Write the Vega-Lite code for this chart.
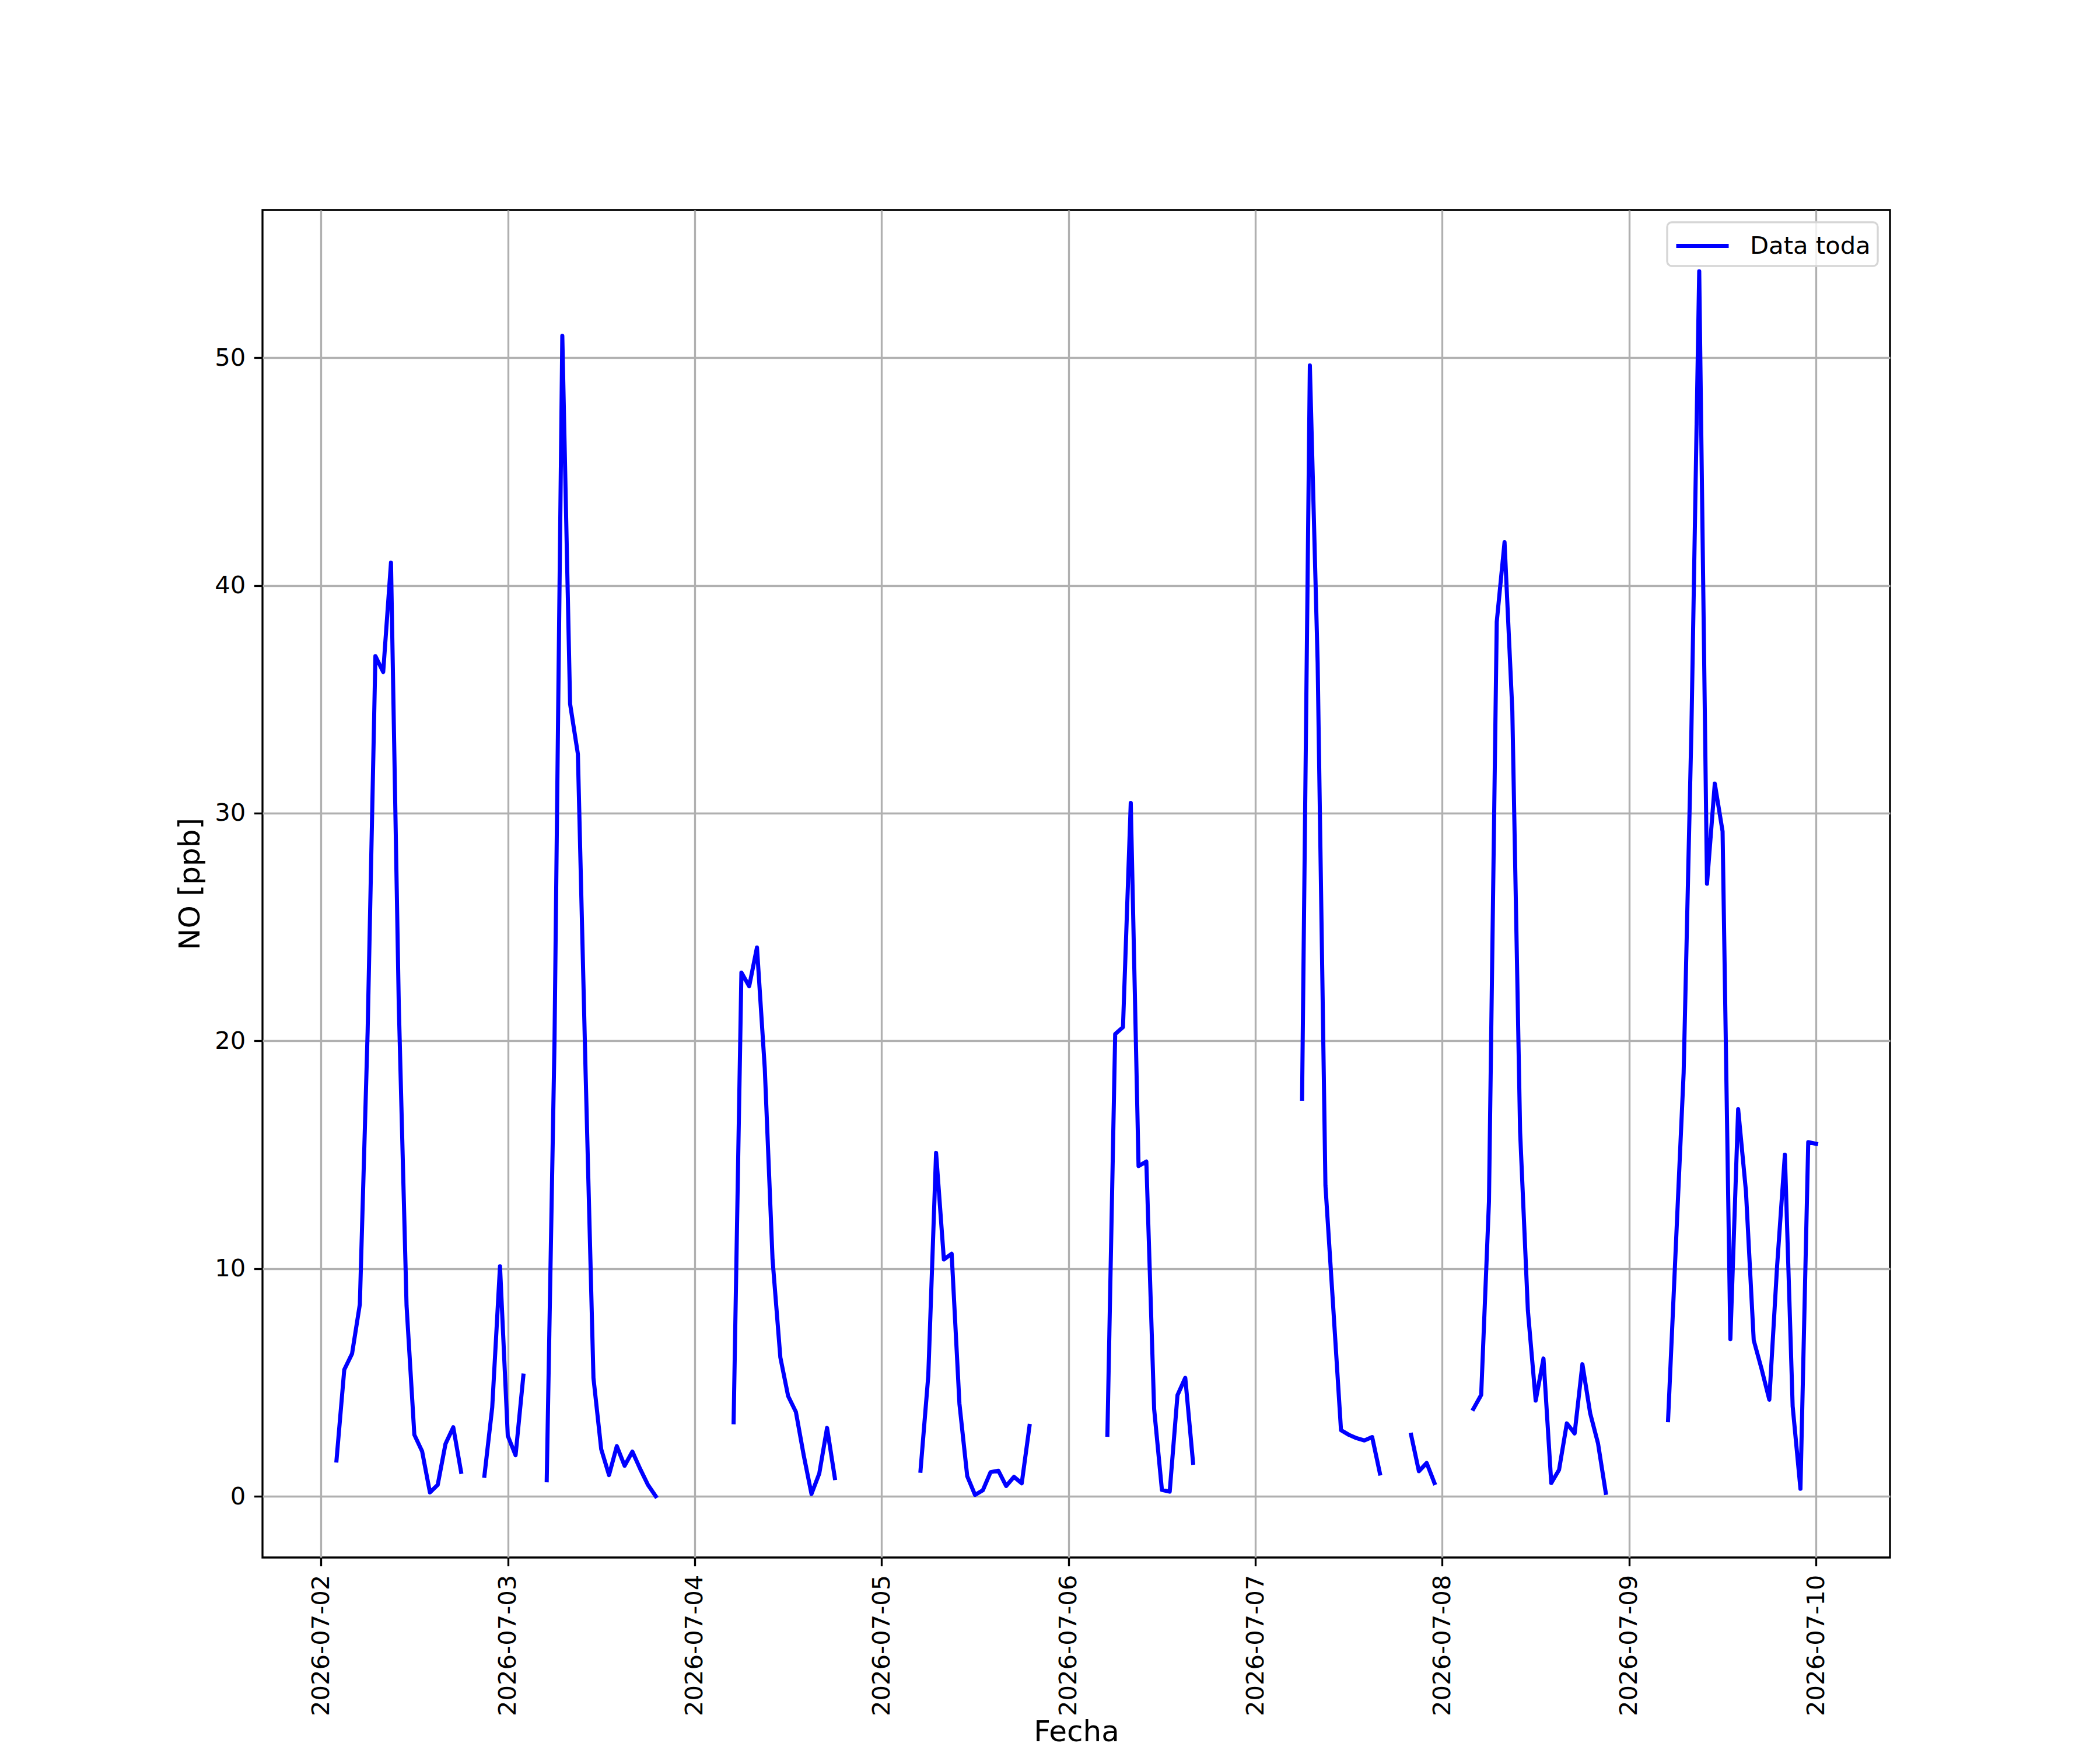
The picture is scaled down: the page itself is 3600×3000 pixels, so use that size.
{
  "$schema": "https://vega.github.io/schema/vega-lite/v6.json",
  "autosize": {"type": "none"},
  "width": 2790,
  "height": 2310,
  "padding": {"left": 450, "top": 360, "right": 360, "bottom": 330},
  "background": "white",
  "config": {
    "font": "DejaVu Sans",
    "view": {"stroke": "black", "strokeWidth": 3.33},
    "axis": {
      "labelFont": "DejaVu Sans",
      "labelFontSize": 41.7,
      "labelColor": "black",
      "labelLimit": 0,
      "titleFont": "DejaVu Sans",
      "titleFontSize": 50,
      "titleFontWeight": "normal",
      "titleColor": "black",
      "domain": false,
      "tickColor": "black",
      "tickWidth": 3.33,
      "tickSize": 14.6,
      "labelPadding": 14.6,
      "gridColor": "#b0b0b0",
      "gridWidth": 3.33,
      "gridOpacity": 1
    }
  },
  "data": {
    "values": [
      {"fecha": "2026-07-02T02:00", "no": 1.57},
      {"fecha": "2026-07-02T03:00", "no": 5.56},
      {"fecha": "2026-07-02T04:00", "no": 6.26},
      {"fecha": "2026-07-02T05:00", "no": 8.43},
      {"fecha": "2026-07-02T06:00", "no": 20.4},
      {"fecha": "2026-07-02T07:00", "no": 36.9},
      {"fecha": "2026-07-02T08:00", "no": 36.2},
      {"fecha": "2026-07-02T09:00", "no": 41.0},
      {"fecha": "2026-07-02T10:00", "no": 21.6},
      {"fecha": "2026-07-02T11:00", "no": 8.37},
      {"fecha": "2026-07-02T12:00", "no": 2.7},
      {"fecha": "2026-07-02T13:00", "no": 1.97},
      {"fecha": "2026-07-02T14:00", "no": 0.17},
      {"fecha": "2026-07-02T15:00", "no": 0.5},
      {"fecha": "2026-07-02T16:00", "no": 2.3},
      {"fecha": "2026-07-02T17:00", "no": 3.03},
      {"fecha": "2026-07-02T18:00", "no": 1.07},
      {"fecha": "2026-07-02T19:00", "no": null},
      {"fecha": "2026-07-02T21:00", "no": 0.9},
      {"fecha": "2026-07-02T22:00", "no": 3.9},
      {"fecha": "2026-07-02T23:00", "no": 10.1},
      {"fecha": "2026-07-03T00:00", "no": 2.65},
      {"fecha": "2026-07-03T01:00", "no": 1.8},
      {"fecha": "2026-07-03T02:00", "no": 5.3},
      {"fecha": "2026-07-03T03:00", "no": null},
      {"fecha": "2026-07-03T05:00", "no": 0.7},
      {"fecha": "2026-07-03T06:00", "no": 20.0},
      {"fecha": "2026-07-03T07:00", "no": 50.96},
      {"fecha": "2026-07-03T08:00", "no": 34.8},
      {"fecha": "2026-07-03T09:00", "no": 32.6},
      {"fecha": "2026-07-03T10:00", "no": 18.5},
      {"fecha": "2026-07-03T11:00", "no": 5.2},
      {"fecha": "2026-07-03T12:00", "no": 2.06},
      {"fecha": "2026-07-03T13:00", "no": 0.93},
      {"fecha": "2026-07-03T14:00", "no": 2.2},
      {"fecha": "2026-07-03T15:00", "no": 1.34},
      {"fecha": "2026-07-03T16:00", "no": 1.96},
      {"fecha": "2026-07-03T17:00", "no": 1.2},
      {"fecha": "2026-07-03T18:00", "no": 0.5},
      {"fecha": "2026-07-03T19:00", "no": 0.0},
      {"fecha": "2026-07-03T20:00", "no": null},
      {"fecha": "2026-07-04T05:00", "no": 3.25},
      {"fecha": "2026-07-04T06:00", "no": 23.0},
      {"fecha": "2026-07-04T07:00", "no": 22.4},
      {"fecha": "2026-07-04T08:00", "no": 24.1},
      {"fecha": "2026-07-04T09:00", "no": 18.8},
      {"fecha": "2026-07-04T10:00", "no": 10.4},
      {"fecha": "2026-07-04T11:00", "no": 6.1},
      {"fecha": "2026-07-04T12:00", "no": 4.4},
      {"fecha": "2026-07-04T13:00", "no": 3.7},
      {"fecha": "2026-07-04T14:00", "no": 1.8},
      {"fecha": "2026-07-04T15:00", "no": 0.1},
      {"fecha": "2026-07-04T16:00", "no": 1.0},
      {"fecha": "2026-07-04T17:00", "no": 3.0},
      {"fecha": "2026-07-04T18:00", "no": 0.8},
      {"fecha": "2026-07-04T19:00", "no": null},
      {"fecha": "2026-07-05T05:00", "no": 1.12},
      {"fecha": "2026-07-05T06:00", "no": 5.3},
      {"fecha": "2026-07-05T07:00", "no": 15.08},
      {"fecha": "2026-07-05T08:00", "no": 10.4},
      {"fecha": "2026-07-05T09:00", "no": 10.65},
      {"fecha": "2026-07-05T10:00", "no": 4.06},
      {"fecha": "2026-07-05T11:00", "no": 0.88},
      {"fecha": "2026-07-05T12:00", "no": 0.06},
      {"fecha": "2026-07-05T13:00", "no": 0.26},
      {"fecha": "2026-07-05T14:00", "no": 1.06},
      {"fecha": "2026-07-05T15:00", "no": 1.12},
      {"fecha": "2026-07-05T16:00", "no": 0.45},
      {"fecha": "2026-07-05T17:00", "no": 0.85},
      {"fecha": "2026-07-05T18:00", "no": 0.57},
      {"fecha": "2026-07-05T19:00", "no": 3.09},
      {"fecha": "2026-07-05T20:00", "no": null},
      {"fecha": "2026-07-06T05:00", "no": 2.7},
      {"fecha": "2026-07-06T06:00", "no": 20.3},
      {"fecha": "2026-07-06T07:00", "no": 20.6},
      {"fecha": "2026-07-06T08:00", "no": 30.45},
      {"fecha": "2026-07-06T09:00", "no": 14.5},
      {"fecha": "2026-07-06T10:00", "no": 14.7},
      {"fecha": "2026-07-06T11:00", "no": 3.84},
      {"fecha": "2026-07-06T12:00", "no": 0.28},
      {"fecha": "2026-07-06T13:00", "no": 0.2},
      {"fecha": "2026-07-06T14:00", "no": 4.44},
      {"fecha": "2026-07-06T15:00", "no": 5.2},
      {"fecha": "2026-07-06T16:00", "no": 1.47},
      {"fecha": "2026-07-06T17:00", "no": null},
      {"fecha": "2026-07-07T06:00", "no": 17.46},
      {"fecha": "2026-07-07T07:00", "no": 49.66},
      {"fecha": "2026-07-07T08:00", "no": 36.6},
      {"fecha": "2026-07-07T09:00", "no": 13.65},
      {"fecha": "2026-07-07T10:00", "no": 8.3},
      {"fecha": "2026-07-07T11:00", "no": 2.9},
      {"fecha": "2026-07-07T12:00", "no": 2.7},
      {"fecha": "2026-07-07T13:00", "no": 2.55},
      {"fecha": "2026-07-07T14:00", "no": 2.45},
      {"fecha": "2026-07-07T15:00", "no": 2.6},
      {"fecha": "2026-07-07T16:00", "no": 1.0},
      {"fecha": "2026-07-07T17:00", "no": null},
      {"fecha": "2026-07-07T20:00", "no": 2.7},
      {"fecha": "2026-07-07T21:00", "no": 1.1},
      {"fecha": "2026-07-07T22:00", "no": 1.46},
      {"fecha": "2026-07-07T23:00", "no": 0.58},
      {"fecha": "2026-07-08T00:00", "no": null},
      {"fecha": "2026-07-08T04:00", "no": 3.84},
      {"fecha": "2026-07-08T05:00", "no": 4.45},
      {"fecha": "2026-07-08T06:00", "no": 12.95},
      {"fecha": "2026-07-08T07:00", "no": 38.4},
      {"fecha": "2026-07-08T08:00", "no": 41.9},
      {"fecha": "2026-07-08T09:00", "no": 34.5},
      {"fecha": "2026-07-08T10:00", "no": 16.0},
      {"fecha": "2026-07-08T11:00", "no": 8.15},
      {"fecha": "2026-07-08T12:00", "no": 4.2},
      {"fecha": "2026-07-08T13:00", "no": 6.05},
      {"fecha": "2026-07-08T14:00", "no": 0.58},
      {"fecha": "2026-07-08T15:00", "no": 1.16},
      {"fecha": "2026-07-08T16:00", "no": 3.2},
      {"fecha": "2026-07-08T17:00", "no": 2.76},
      {"fecha": "2026-07-08T18:00", "no": 5.8},
      {"fecha": "2026-07-08T19:00", "no": 3.64},
      {"fecha": "2026-07-08T20:00", "no": 2.33},
      {"fecha": "2026-07-08T21:00", "no": 0.15},
      {"fecha": "2026-07-08T22:00", "no": null},
      {"fecha": "2026-07-09T05:00", "no": 3.34},
      {"fecha": "2026-07-09T06:00", "no": 11.0},
      {"fecha": "2026-07-09T07:00", "no": 18.6},
      {"fecha": "2026-07-09T08:00", "no": 33.7},
      {"fecha": "2026-07-09T09:00", "no": 53.8},
      {"fecha": "2026-07-09T10:00", "no": 26.9},
      {"fecha": "2026-07-09T11:00", "no": 31.3},
      {"fecha": "2026-07-09T12:00", "no": 29.2},
      {"fecha": "2026-07-09T13:00", "no": 6.9},
      {"fecha": "2026-07-09T14:00", "no": 17.0},
      {"fecha": "2026-07-09T15:00", "no": 13.4},
      {"fecha": "2026-07-09T16:00", "no": 6.85},
      {"fecha": "2026-07-09T17:00", "no": 5.6},
      {"fecha": "2026-07-09T18:00", "no": 4.24},
      {"fecha": "2026-07-09T19:00", "no": 10.1},
      {"fecha": "2026-07-09T20:00", "no": 15.0},
      {"fecha": "2026-07-09T21:00", "no": 3.95},
      {"fecha": "2026-07-09T22:00", "no": 0.33},
      {"fecha": "2026-07-09T23:00", "no": 15.55},
      {"fecha": "2026-07-10T00:00", "no": 15.48}
    ]
  },
  "mark": {
    "type": "line",
    "strokeWidth": 7,
    "strokeJoin": "round",
    "strokeCap": "square",
    "invalid": "break-paths-show-domains"
  },
  "encoding": {
    "x": {
      "field": "fecha",
      "type": "temporal",
      "title": "Fecha",
      "scale": {
        "type": "time",
        "nice": false,
        "domain": [
          {"year": 2026, "month": 7, "date": 1, "hours": 16, "minutes": 30},
          {"year": 2026, "month": 7, "date": 10, "hours": 9, "minutes": 30}
        ]
      },
      "axis": {
        "format": "%Y-%m-%d",
        "tickCount": {"interval": "day", "step": 1},
        "labelAngle": -90,
        "labelFlush": false,
        "labelOverlap": false,
        "titlePadding": 74
      }
    },
    "y": {
      "field": "no",
      "type": "quantitative",
      "title": "NO [ppb]",
      "scale": {"domain": [-2.69, 56.49], "nice": false, "zero": false},
      "axis": {
        "values": [0, 10, 20, 30, 40, 50],
        "titlePadding": 16.7
      }
    },
    "color": {
      "datum": "Data toda",
      "scale": {"domain": ["Data toda"], "range": ["#0000ff"]},
      "legend": {
        "title": null,
        "orient": "top-right",
        "offset": 21,
        "padding": 12,
        "strokeColor": "#d6d6d6",
        "cornerRadius": 8,
        "fillColor": "rgba(255,255,255,0.8)",
        "symbolType": "M-1,0H2.6",
        "symbolSize": 2500,
        "symbolStrokeWidth": 7,
        "labelFont": "DejaVu Sans",
        "labelFontSize": 41.7,
        "labelColor": "black",
        "labelLimit": 0,
        "labelOffset": 73,
        "encode": {
          "legend": {"update": {"strokeWidth": {"value": 3.33}}}
        }
      }
    }
  }
}
